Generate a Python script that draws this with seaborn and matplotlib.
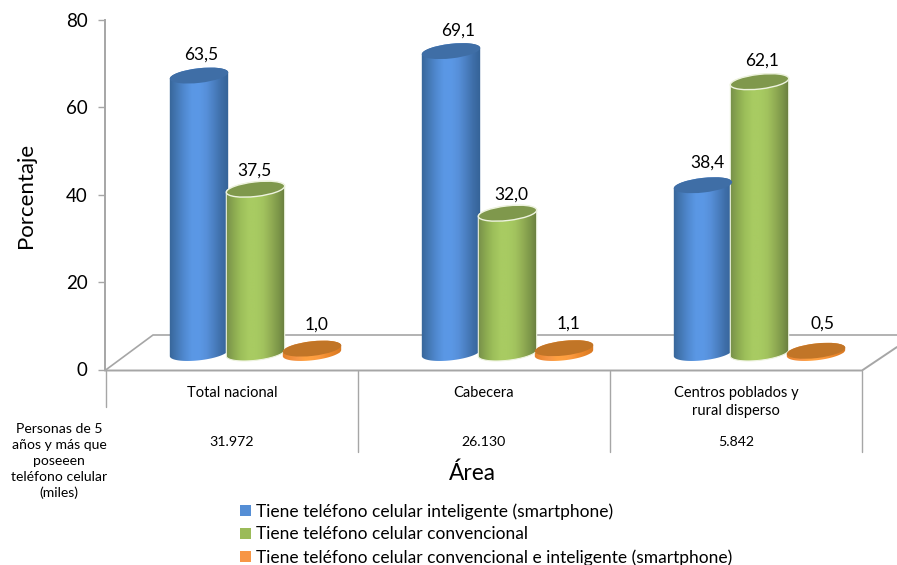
import numpy as np
import pandas as pd
import matplotlib
matplotlib.use("Agg")
import matplotlib.pyplot as plt
from matplotlib.colors import LinearSegmentedColormap
from matplotlib.lines import Line2D
from matplotlib.patches import Patch, PathPatch, Ellipse
from matplotlib.path import Path
from matplotlib.transforms import IdentityTransform
import seaborn as sns

areas = ["Total nacional", "Cabecera", "Centros poblados y\nrural disperso"]
persons = ["31.972", "26.130", "5.842"]
smartphone = [63.5, 69.1, 38.4]
conventional = [37.5, 32.0, 62.1]
both = [1.0, 1.1, 0.5]
series_names = [
    "Tiene teléfono celular inteligente (smartphone)",
    "Tiene teléfono celular convencional",
    "Tiene teléfono celular convencional e inteligente (smartphone)",
]
legend_colors = ["#558ED5", "#9BBB59", "#F79646"]
top_colors = ["#3F6EA6", "#7F984C", "#C17527"]
ramps = [
    ["#376598", "#4478B4", "#5089D0", "#5A97E4", "#5B98E6", "#5790DA", "#4B80C2", "#3E6EA8", "#346296"],
    ["#768F4A", "#8BA950", "#9DBF5A", "#A8CB62", "#A8CB62", "#A2C35E", "#92AE54", "#7D9749", "#66793E"],
    ["#E07F2C", "#F08C38", "#F79646", "#FFA040", "#FFA040", "#FB9A40", "#F08C30", "#E48228", "#D87822"],
]
rims = ["#6F9BD0", "#EEF3DF", "#F5A050"]
row_title = "Personas de 5\naños y más que\nposeeen\nteléfono celular\n(miles)"

W, H = 897, 565
sns.set_theme(style="white")
plt.rcParams["font.family"] = ["Lato", "DejaVu Sans"]
fig = plt.figure(figsize=(W / 100, H / 100), dpi=100)
ax = fig.add_axes([105 / W, (H - 369.5) / H, (W - 105) / W, 349.5 / H])

df = pd.DataFrame({
    "Área": areas * 3,
    "Porcentaje": smartphone + conventional + both,
    "Serie": np.repeat(series_names, len(areas)),
})
FLOOR_LIFT = 3.78
sns.barplot(data=df, x="Área", y="Porcentaje", hue="Serie", palette=legend_colors,
            width=0.6726, gap=0, saturation=1, errorbar=None, legend=False,
            bottom=FLOOR_LIFT, ax=ax)
ax.set_autoscale_on(False)
ax.set_xlim((105 - 255.5) / 252, (W - 255.5) / 252)
ax.set_ylim(0, 80)


def deco(xs, ys, color="#A6A6A6", lw=1.4, z=1):
    ax.add_line(Line2D(xs, [H - y for y in ys], color=color, lw=lw, zorder=z,
                       transform=IdentityTransform(), clip_on=False))


# floor and category separators
deco([105, 862, 897], [370.5, 370.5, 347])
deco([105, 153, 897], [370.5, 335, 335], lw=1.2)
deco([106, 106], [370.5, 407], lw=1.0)
for sx in (358, 610, 862):
    deco([sx, sx], [370.5, 452], lw=1.0)

# y axis
for side in ("top", "right", "bottom"):
    ax.spines[side].set_visible(False)
ax.spines["left"].set_color("#A6A6A6")
ax.spines["left"].set_linewidth(1.4)
ax.set_yticks([0, 20, 40, 60, 80])
ax.tick_params(axis="y", left=True, length=5, width=1, color="#A6A6A6",
               labelsize=13.5, labelcolor="black", pad=7.5)

# category labels
ax.set_xticks(np.arange(3) - 23.5 / 252, areas)
ax.tick_params(axis="x", bottom=False, labelsize=10.5, labelcolor="black", pad=6)
for lab in ax.get_xticklabels():
    lab.set_linespacing(1.38)
ax.set_xlabel("")
ax.set_ylabel("")
ax.patch.set_alpha(0)
ax.grid(False)


def ell(cx, cy, a, b, ang, t):
    c, s = np.cos(ang), np.sin(ang)
    return np.column_stack([cx + a * np.cos(t) * c - b * np.sin(t) * s,
                            cy + a * np.cos(t) * s + b * np.sin(t) * c])


TILT = np.deg2rad(6.5)
z = 3.0
n_areas = len(areas)
# small per-label nudges (pixels) as placed in the original chart
nudge_x = [[1, 6, 3], [-3, 2, 1], [3, 3, 5]]
nudge_y = [[-1, -2, 1], [-3, -3, -1], [2, 3, 5]]
for group in range(n_areas):
    for k in range(len(series_names)):
        bar = ax.patches[k * n_areas + group]
        xc = bar.get_x() + bar.get_width() / 2
        cx, y0 = ax.transData.transform((xc, bar.get_y()))
        _, y1 = ax.transData.transform((xc, bar.get_y() + bar.get_height()))
        a = 0.52 * abs(ax.transData.transform((bar.get_width(), 0))[0]
                       - ax.transData.transform((0, 0))[0])
        b = 7.3
        low = ell(cx, y0, a, b, TILT, np.linspace(np.pi, 2 * np.pi, 50))
        up = ell(cx, y1, a, b, TILT, np.linspace(0, np.pi, 50))
        pts = np.vstack([low, up, low[:1]])
        body = PathPatch(Path(pts), transform=IdentityTransform(), fill=False,
                         edgecolor=rims[k], lw=0.8 if k == 1 else 0, zorder=z + 0.2)
        ax.add_patch(body)
        bar.set_clip_path(Path(pts), IdentityTransform())
        bar.set_zorder(z)
        cmap = LinearSegmentedColormap.from_list(f"r{k}", ramps[k])
        dx = bar.get_width() * 0.03
        im = ax.imshow(np.linspace(0, 1, 128)[None, :], cmap=cmap, aspect="auto",
                       extent=(bar.get_x() - dx, bar.get_x() + bar.get_width() + dx,
                               bar.get_y() - 3, bar.get_y() + bar.get_height() + 3),
                       zorder=z + 0.1, interpolation="bilinear")
        im.set_clip_path(Path(pts), IdentityTransform())
        ax.add_patch(Ellipse((cx, y1), 2 * a, 2 * b, angle=np.rad2deg(TILT),
                             facecolor=top_colors[k], edgecolor=rims[k] if k == 1 else "none",
                             lw=1.0, transform=IdentityTransform(), zorder=z + 0.3))
        ax.annotate(f"{bar.get_height():.1f}".replace(".", ","),
                    xy=(xc, bar.get_y() + bar.get_height()),
                    xytext=((1.5 + nudge_x[k][group]) * 0.72,
                            (22 + nudge_y[k][group]) * 0.72),
                    textcoords="offset points",
                    ha="center", va="center", fontsize=12.5, color="black",
                    annotation_clip=False, zorder=10)
    z += 1

# table row under the axis
for i, txt in enumerate(persons):
    fig.text((232 + 252 * i) / W, 1 - 441.5 / H, txt, ha="center", va="center",
             fontsize=10.2, color="black")
fig.text(59 / W, 1 - 461 / H, row_title, ha="center", va="center", fontsize=10.1,
         color="black", linespacing=1.40)
fig.text(26 / W, 1 - 195 / H, "Porcentaje", rotation=90, ha="center", va="center",
         fontsize=16, color="black")
fig.text(472 / W, 1 - 473 / H, "Área", ha="center", va="center", fontsize=16.3,
         color="black")

handles = [Patch(facecolor=c, edgecolor="none") for c in legend_colors]
fig.legend(handles, series_names, loc="upper left",
           bbox_to_anchor=(237 / W, 1 - 499.5 / H), frameon=False, fontsize=12.5,
           handlelength=0.58, handleheight=0.58, handletextpad=0.3,
           labelspacing=0.4, labelcolor="black", borderpad=0.2, borderaxespad=0)

fig.savefig("out.png", dpi=100, facecolor="white")
